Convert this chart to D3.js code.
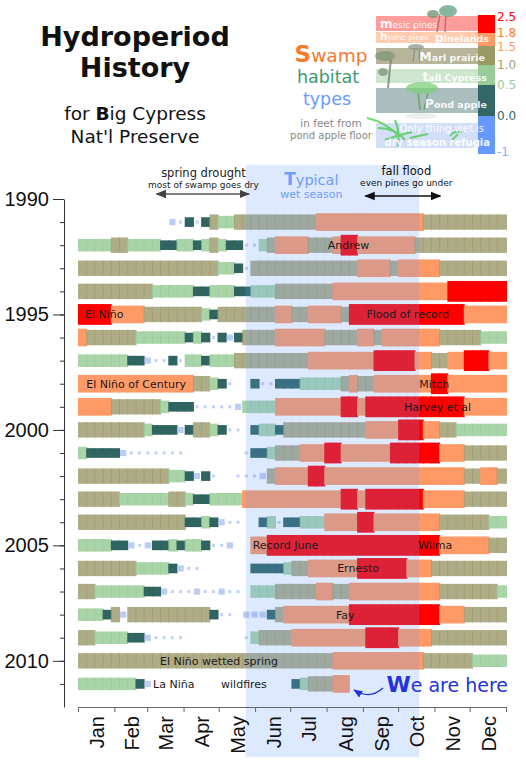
<!DOCTYPE html>
<html>
<head>
<meta charset="utf-8">
<script src="https://cdn.jsdelivr.net/npm/d3@7"></script>
<style>
  body { margin: 0; background: #fff; }
  svg { display: block; }
</style>
</head>
<body>
<div id="chart"></div>
<script>
// Rows are years, each row is a run-length string of weekly depth codes:
// b/B below ground (dry), P pond apple, C tall cypress, M marl prairie,
// O hydric pines, R mesic pines, "." no reading.
const years = d3.range(1991, 2012);
const weeklyRuns = [
  "11. 1B 1b 1P 1b 1P 1M 2C 10M 13O 10M",
  "4C 2M 4C 2P 2C 1P 1C 1M 1C 2P 2b 1C 1M 4O 3M 1O 2R 7O 11M",
  "17M 2C 1P 1b 13M 4O 1M 5O 8M",
  "9M 5C 2P 3C 2P 3C 7M 14O 7R",
  "4R 4O 7M 1C 1P 7M 2O 2M 4O 1M 14R 5O",
  "1O 6M 6C 1P 1C 1P 1b 1P 1B 1P 4M 6O 4M 2O 1M 7O 5M 3C",
  "6C 2P 1B 2b 1P 1b 2C 1P 3C 9M 8O 5R 2O 2M 2O 3R 2O",
  "14O 2M 1C 1P 1b 2. 1P 2b 3P 5C 1M 1O 2M 7O 2R 7O",
  "4O 6M 1C 3P 5b 1B 4C 8O 2R 1O 12R 5O",
  "8M 1C 3P 1B 1P 2M 1C 1P 2b 1. 1P 2C 1P 10M 4O 3R 2O 2M 6C",
  "1C 4P 1B 7b 7. 1b 2P 1C 3M 3O 2R 6O 6R 3O 5M",
  "11M 2C 1P 1B 1P 1b 2. 3b 1B 1M 4O 2R 17O 2M 2O 1M",
  "5M 6C 2M 1C 2P 4C 12O 2R 1O 7R 5O 5M",
  "13M 2P 1C 1P 1B 2b 2. 1P 1C 1b 2P 3C 4O 2R 8O 6M 2C",
  "4C 2P 1B 1b 1B 2P 1C 1P 2C 1P 2b 1B 2. 2O 21R 6O 2M",
  "7M 4C 1P 1B 2b 6. 4P 1C 2M 6O 6R 3O 9M",
  "2M 6C 2P 1B 3b 1B 2b 1B 2b 1. 3C 5M 2O 2M 11O 7M 1C",
  "3C 1P 1M 1B 10M 1P 2b 1. 3B 1P 1M 8O 11R 3O 5M",
  "2M 4C 2P 1B 4b 7. 1b 1C 4M 9O 4R 4O 9M",
  "31M 11O 6M 4C",
  "7C 1P 1B 17. 1P 1C 3M 2O"
];

const codes = ["b", "B", "P", "C", "M", "O", "R"];
const codeDepth = [-0.9, -0.35, 0.25, 0.75, 1.25, 1.65, 2.2];   // feet
const cellFill = ["#c4d3f6", "#bccdf5", "#2f6461", "#99cc99", "#a09d71", "#ff9966", "#ff0000"];
const cellOpacity = [1, 1, 1, 0.85, 0.85, 1, 1];

const barValues = [-1, 0, 0.5, 1, 1.5, 1.8, 2.5];
const barColors = ["#6699ff", "#336666", "#99cc99", "#999966", "#ff9966", "#ff0000"];
const barLabels = ["-1", "0.0", "0.5", "1.0", "1.5", "1.8", "2.5"];
const barLabelColors = ["#88aaff", "#336666", "#99cc99", "#a09f6f", "#ff9966", "#ff7722", "#ff0000"];

const habitats = [
  { name: "mesic pines", fill: "#ff9c9c" },
  { name: "hydric pines", fill: "#ffccb0" },
  { name: "Marl prairie", fill: "#b7b599" },
  { name: "tall Cypress", fill: "#cde6cd" },
  { name: "Pond apple", fill: "#aabfbd" },
  { name: "dry season refugia", fill: "#d3dff9" }
];

// events: year, date where the label starts, label
const events = [
  [1992, "08-02", "Andrew"],
  [1995, "01-07", "El Niño"],
  [1995, "09-04", "Flood of record"],
  [1998, "01-08", "El Niño of Century"],
  [1998, "10-19", "Mitch"],
  [1999, "10-06", "Harvey et al"],
  [2005, "05-30", "Record June"],
  [2005, "10-18", "Wilma"],
  [2006, "08-10", "Ernesto"],
  [2008, "08-09", "Fay"],
  [2010, "03-12", "El Niño wetted spring"],
  [2011, "03-06", "La Niña"],
  [2011, "05-03", "wildfires"]
];

const width = 526;
const height = 769;
const baseYear = 2001;
const day = (md) => new Date(`${baseYear}-${md}T00:00:00`);

const x = d3.scaleTime()
  .domain([day("01-01"), new Date(`${baseYear + 1}-01-01T00:00:00`)])
  .range([78, 506]);
const y = d3.scaleLinear().domain([1990, 2012]).range([199, 707]);
const h = d3.scaleLinear().domain([-1, 2.5]).range([2.5, 22.5]);
// colour bar uses a piecewise scale (the legend is not linear)
const bar = d3.scaleLinear().domain(barValues).range([154, 116, 85, 65, 46, 33, 15]);

const svg = d3.select("#chart").append("svg")
  .attr("width", width)
  .attr("height", height)
  .attr("viewBox", [0, 0, width, height])
  .style("font-family", "'DejaVu Sans', Verdana, sans-serif");

const defs = svg.append("defs");
function arrowHead(id, color) {
  defs.append("marker")
    .attr("id", id)
    .attr("viewBox", "0 0 10 10")
    .attr("refX", 9).attr("refY", 5)
    .attr("markerWidth", 7).attr("markerHeight", 7)
    .attr("orient", "auto-start-reverse")
    .append("path")
    .attr("d", "M0,1L10,5L0,9Z")
    .attr("fill", color);
}
arrowHead("ahGray", "#444");
arrowHead("ahBlack", "#111");
arrowHead("ahBlue", "#2233dd");

// ---- title
const title = svg.append("g").attr("text-anchor", "middle").attr("fill", "#111");
title.append("text").attr("x", 135).attr("y", 46)
  .attr("font-size", 27).attr("font-weight", "bold").text("Hydroperiod");
title.append("text").attr("x", 135).attr("y", 77)
  .attr("font-size", 27).attr("font-weight", "bold").text("History");
const sub = title.append("text").attr("x", 135).attr("y", 120).attr("font-size", 18.5);
sub.append("tspan").text("for ");
sub.append("tspan").attr("font-weight", "bold").text("B");
sub.append("tspan").text("ig Cypress");
title.append("text").attr("x", 135).attr("y", 143).attr("font-size", 18.5).text("Nat'l Preserve");

// ---- legend titles
const lt = svg.append("g").attr("text-anchor", "middle");
const sw = lt.append("text").attr("x", 331).attr("y", 62).attr("fill", "#f7792c");
sw.append("tspan").attr("font-size", 23).attr("font-weight", "bold").text("S");
sw.append("tspan").attr("font-size", 18.5).text("wamp");
lt.append("text").attr("x", 328).attr("y", 83).attr("font-size", 17.5).attr("fill", "#3d9a6c").text("habitat");
lt.append("text").attr("x", 327).attr("y", 105).attr("font-size", 17.5).attr("fill", "#6699ff").text("types");
lt.append("text").attr("x", 331).attr("y", 127).attr("font-size", 10.5).attr("fill", "#888").text("in feet from");
lt.append("text").attr("x", 331).attr("y", 139).attr("font-size", 10).attr("fill", "#888").text("pond apple floor");

// ---- habitat boxes
const hb = svg.append("g");
hb.selectAll("rect").data(habitats).join("rect")
  .attr("x", 376).attr("width", 102)
  .attr("y", (d, i) => [16, 32, 48, 69, 88, 123][i])
  .attr("height", (d, i) => [15, 11, 16, 14, 25, 25][i])
  .attr("fill", (d) => d.fill);

// rough plant sketches on the habitat boxes
const plants = svg.append("g").attr("opacity", 0.75);
plants.append("path").attr("d", "M437,32L440,14M445,32L446,12")
  .attr("stroke", "#a06060").attr("stroke-width", 1.5);
plants.append("ellipse").attr("cx", 448).attr("cy", 11).attr("rx", 9).attr("ry", 6).attr("fill", "#5f9f80");
plants.append("ellipse").attr("cx", 433).attr("cy", 14).attr("rx", 6).attr("ry", 4).attr("fill", "#6f8f70");
plants.append("path").attr("d", "M413,62L415,46M420,62L419,48")
  .attr("stroke", "#777", "#777").attr("stroke-width", 1);
plants.append("ellipse").attr("cx", 416).attr("cy", 47).attr("rx", 8).attr("ry", 3).attr("fill", "#889988");
plants.append("path").attr("d", "M388,88L391,58").attr("stroke", "#777766").attr("stroke-width", 2);
plants.append("ellipse").attr("cx", 385).attr("cy", 56).attr("rx", 10).attr("ry", 5).attr("fill", "#7f9478");
plants.append("ellipse").attr("cx", 383).attr("cy", 72).attr("rx", 5).attr("ry", 4).attr("fill", "#7f9478");
plants.append("path").attr("d", "M420,110L418,92M424,110L428,92")
  .attr("stroke", "#559955").attr("stroke-width", 1.5);
plants.append("ellipse").attr("cx", 422).attr("cy", 88).attr("rx", 16).attr("ry", 6).attr("fill", "#7ccf7c");
plants.append("ellipse").attr("cx", 421).attr("cy", 116).attr("rx", 16).attr("ry", 3).attr("fill", "#e6ece6");
plants.append("path")
  .attr("d", "M367,118Q385,122 398,135M378,128Q395,128 405,140M395,120Q400,130 398,148M385,140Q398,135 412,132M410,138L428,134")
  .attr("fill", "none").attr("stroke", "#44cc44").attr("stroke-width", 2.2);
plants.append("path").attr("d", "M450,136Q455,130 462,132M452,140L458,134")
  .attr("fill", "none").attr("stroke", "#44cc44").attr("stroke-width", 1.8);

// ---- colour bar
const cb = svg.append("g");
cb.selectAll("rect").data(barColors).join("rect")
  .attr("x", 478).attr("width", 17)
  .attr("y", (d, i) => bar(barValues[i + 1]))
  .attr("height", (d, i) => bar(barValues[i]) - bar(barValues[i + 1]))
  .attr("fill", (d) => d);
cb.selectAll("text").data(barLabels).join("text")
  .attr("x", 497)
  .attr("y", (d, i) => bar(barValues[i]) + (i === 0 ? -2 : i === 6 ? 2 : i === 4 ? 1 : 0))
  .attr("dy", "0.35em")
  .attr("font-size", 12)
  .attr("fill", (d, i) => barLabelColors[i])
  .text((d) => d);

// ---- habitat names (white, they run over the colour bar)
const hl = svg.append("g").attr("fill", "#fff").attr("fill-opacity", 0.92);
function capLabel(xp, yp, first, rest, size, anchor, bold) {
  const t = hl.append("text").attr("x", xp).attr("y", yp)
    .attr("text-anchor", anchor).attr("font-weight", bold ? "bold" : "normal");
  t.append("tspan").attr("font-size", size + 3).attr("font-weight", "bold").text(first);
  t.append("tspan").attr("font-size", size).text(rest);
}
capLabel(380, 28, "m", "esic pines", 9, "start", false);
capLabel(380, 40, "h", "ydric pines", 7.5, "start", false);
capLabel(489, 42, "p", "inelands", 9.5, "end", true);
capLabel(485, 61, "M", "arl prairie", 9.5, "end", true);
capLabel(487, 81, "t", "all Cypress", 9.5, "end", true);
capLabel(487, 108, "P", "ond apple", 9.5, "end", true);
hl.append("text").attr("x", 484).attr("y", 132).attr("text-anchor", "end")
  .attr("font-size", 10).text("Only thing wet is");
hl.append("text").attr("x", 490).attr("y", 146).attr("text-anchor", "end")
  .attr("font-size", 10).attr("font-weight", "bold").text("dry season refugia");

// ---- cells
const rows = years.map((year, r) => {
  const seq = [];
  weeklyRuns[r].split(" ").forEach((tok) => {
    const n = +tok.slice(0, -1);
    const c = tok.slice(-1);
    for (let k = 0; k < n; k++) seq.push(c);
  });
  return seq.map((c, i) => ({ year, i, c: codes.indexOf(c) })).filter((d) => d.c >= 0);
});

const weekStart = (i) => x(d3.timeDay.offset(day("01-01"), 7 * i));
const weekEnd = (i) => (i >= 51 ? x.range()[1] : x(d3.timeDay.offset(day("01-01"), 7 * (i + 1))));

const gCells = svg.append("g");
gCells.selectAll("g").data(rows).join("g")
  .selectAll("rect").data((d) => d).join("rect")
  .each(function (d) {
    const hh = h(codeDepth[d.c]);
    const x0 = weekStart(d.i), x1 = weekEnd(d.i);
    const sel = d3.select(this);
    if (d.c <= 1) {
      // dry weeks: small squares sized by depth
      sel.attr("x", (x0 + x1) / 2 - hh / 2).attr("width", hh);
    } else {
      sel.attr("x", x0).attr("width", x1 - x0 + 1);
    }
    sel.attr("y", y(d.year) - hh / 2).attr("height", hh)
      .attr("fill", cellFill[d.c])
      .attr("fill-opacity", cellOpacity[d.c]);
  });

// ---- wet season band (drawn over the cells)
svg.append("rect")
  .attr("x", x(day("05-24")))
  .attr("width", x(day("10-19")) - x(day("05-24")))
  .attr("y", 165).attr("height", 592)
  .attr("fill", "#6699ff").attr("fill-opacity", 0.22);

// ---- axes
svg.append("g").attr("transform", "translate(64,0)")
  .call(d3.axisLeft(y).tickValues(d3.range(1990, 2012)).tickSize(4).tickSizeOuter(0).tickFormat(""));
const yMajor = svg.append("g").attr("transform", "translate(64,0)")
  .call(d3.axisLeft(y).tickValues([1990, 1995, 2000, 2005, 2010]).tickSize(11).tickSizeOuter(0)
    .tickFormat(d3.format("d")));
yMajor.select(".domain").remove();
yMajor.selectAll("text").attr("x", -15)
  .attr("font-family", "'Liberation Sans', Arial, sans-serif").attr("font-size", 20).attr("fill", "#111");
svg.selectAll(".tick line, .domain").attr("stroke", "#333");

const months = d3.timeMonth.range(day("01-01"), x.domain()[1]);
const xAxis = svg.append("g").attr("transform", "translate(0,707)")
  .call(d3.axisBottom(x).ticks(d3.timeMonth.every(1)).tickSize(5).tickSizeOuter(5).tickFormat(""));
xAxis.selectAll(".tick line, .domain").attr("stroke", "#666");
svg.append("g").selectAll("text").data(months).join("text")
  .attr("transform", (d) => `translate(${(x(d) + x(d3.timeMonth.offset(d, 1))) / 2 + 1},716) rotate(-90)`)
  .attr("text-anchor", "end").attr("dy", "0.35em")
  .attr("font-family", "'Liberation Sans', Arial, sans-serif").attr("font-size", 20).attr("fill", "#111")
  .text(d3.timeFormat("%b"));

// ---- season annotations
const ann = svg.append("g").attr("text-anchor", "middle");
ann.append("text").attr("x", x(day("04-18"))).attr("y", 177).attr("font-size", 11.5).attr("fill", "#222").text("spring drought");
ann.append("text").attr("x", x(day("04-18"))).attr("y", 188).attr("font-size", 9).attr("fill", "#222").text("most of swamp goes dry");
ann.append("line").attr("x1", x(day("03-09"))).attr("x2", x(day("05-27"))).attr("y1", 194).attr("y2", 194)
  .attr("stroke", "#555").attr("stroke-width", 1.5)
  .attr("marker-start", "url(#ahGray)").attr("marker-end", "url(#ahGray)");

const ty = ann.append("text").attr("x", x(day("07-19"))).attr("y", 185).attr("fill", "#6f9bff");
ty.append("tspan").attr("font-size", 17).attr("font-weight", "bold").text("T");
ty.append("tspan").attr("font-size", 14.5).text("ypical");
ann.append("text").attr("x", x(day("07-19"))).attr("y", 198).attr("font-size", 11).attr("fill", "#6f9bff").text("wet season");

ann.append("text").attr("x", x(day("10-08"))).attr("y", 175).attr("font-size", 11.5).attr("fill", "#111").text("fall flood");
ann.append("text").attr("x", x(day("10-08"))).attr("y", 186).attr("font-size", 9).attr("fill", "#111").text("even pines go under");
ann.append("line").attr("x1", x(day("09-03"))).attr("x2", x(day("11-06"))).attr("y1", 196).attr("y2", 196)
  .attr("stroke", "#111").attr("stroke-width", 1.5)
  .attr("marker-start", "url(#ahBlack)").attr("marker-end", "url(#ahBlack)");

// ---- event labels
svg.append("g").selectAll("text").data(events).join("text")
  .attr("x", (d) => x(day(d[1])))
  .attr("y", (d) => y(d[0]))
  .attr("dy", "0.36em")
  .attr("font-size", 11).attr("fill", "#1a1a1a")
  .text((d) => d[2]);

// ---- we are here
const here = svg.append("text").attr("x", x(day("09-21"))).attr("y", 692).attr("fill", "#2233dd");
here.append("tspan").attr("font-size", 22).attr("font-weight", "bold").text("W");
here.append("tspan").attr("font-size", 19).text("e are here");
svg.append("path")
  .attr("d", "M383,688 Q370,700 354,690")
  .attr("fill", "none").attr("stroke", "#2233dd").attr("stroke-width", 1.3)
  .attr("marker-end", "url(#ahBlue)");
</script>
</body>
</html>
